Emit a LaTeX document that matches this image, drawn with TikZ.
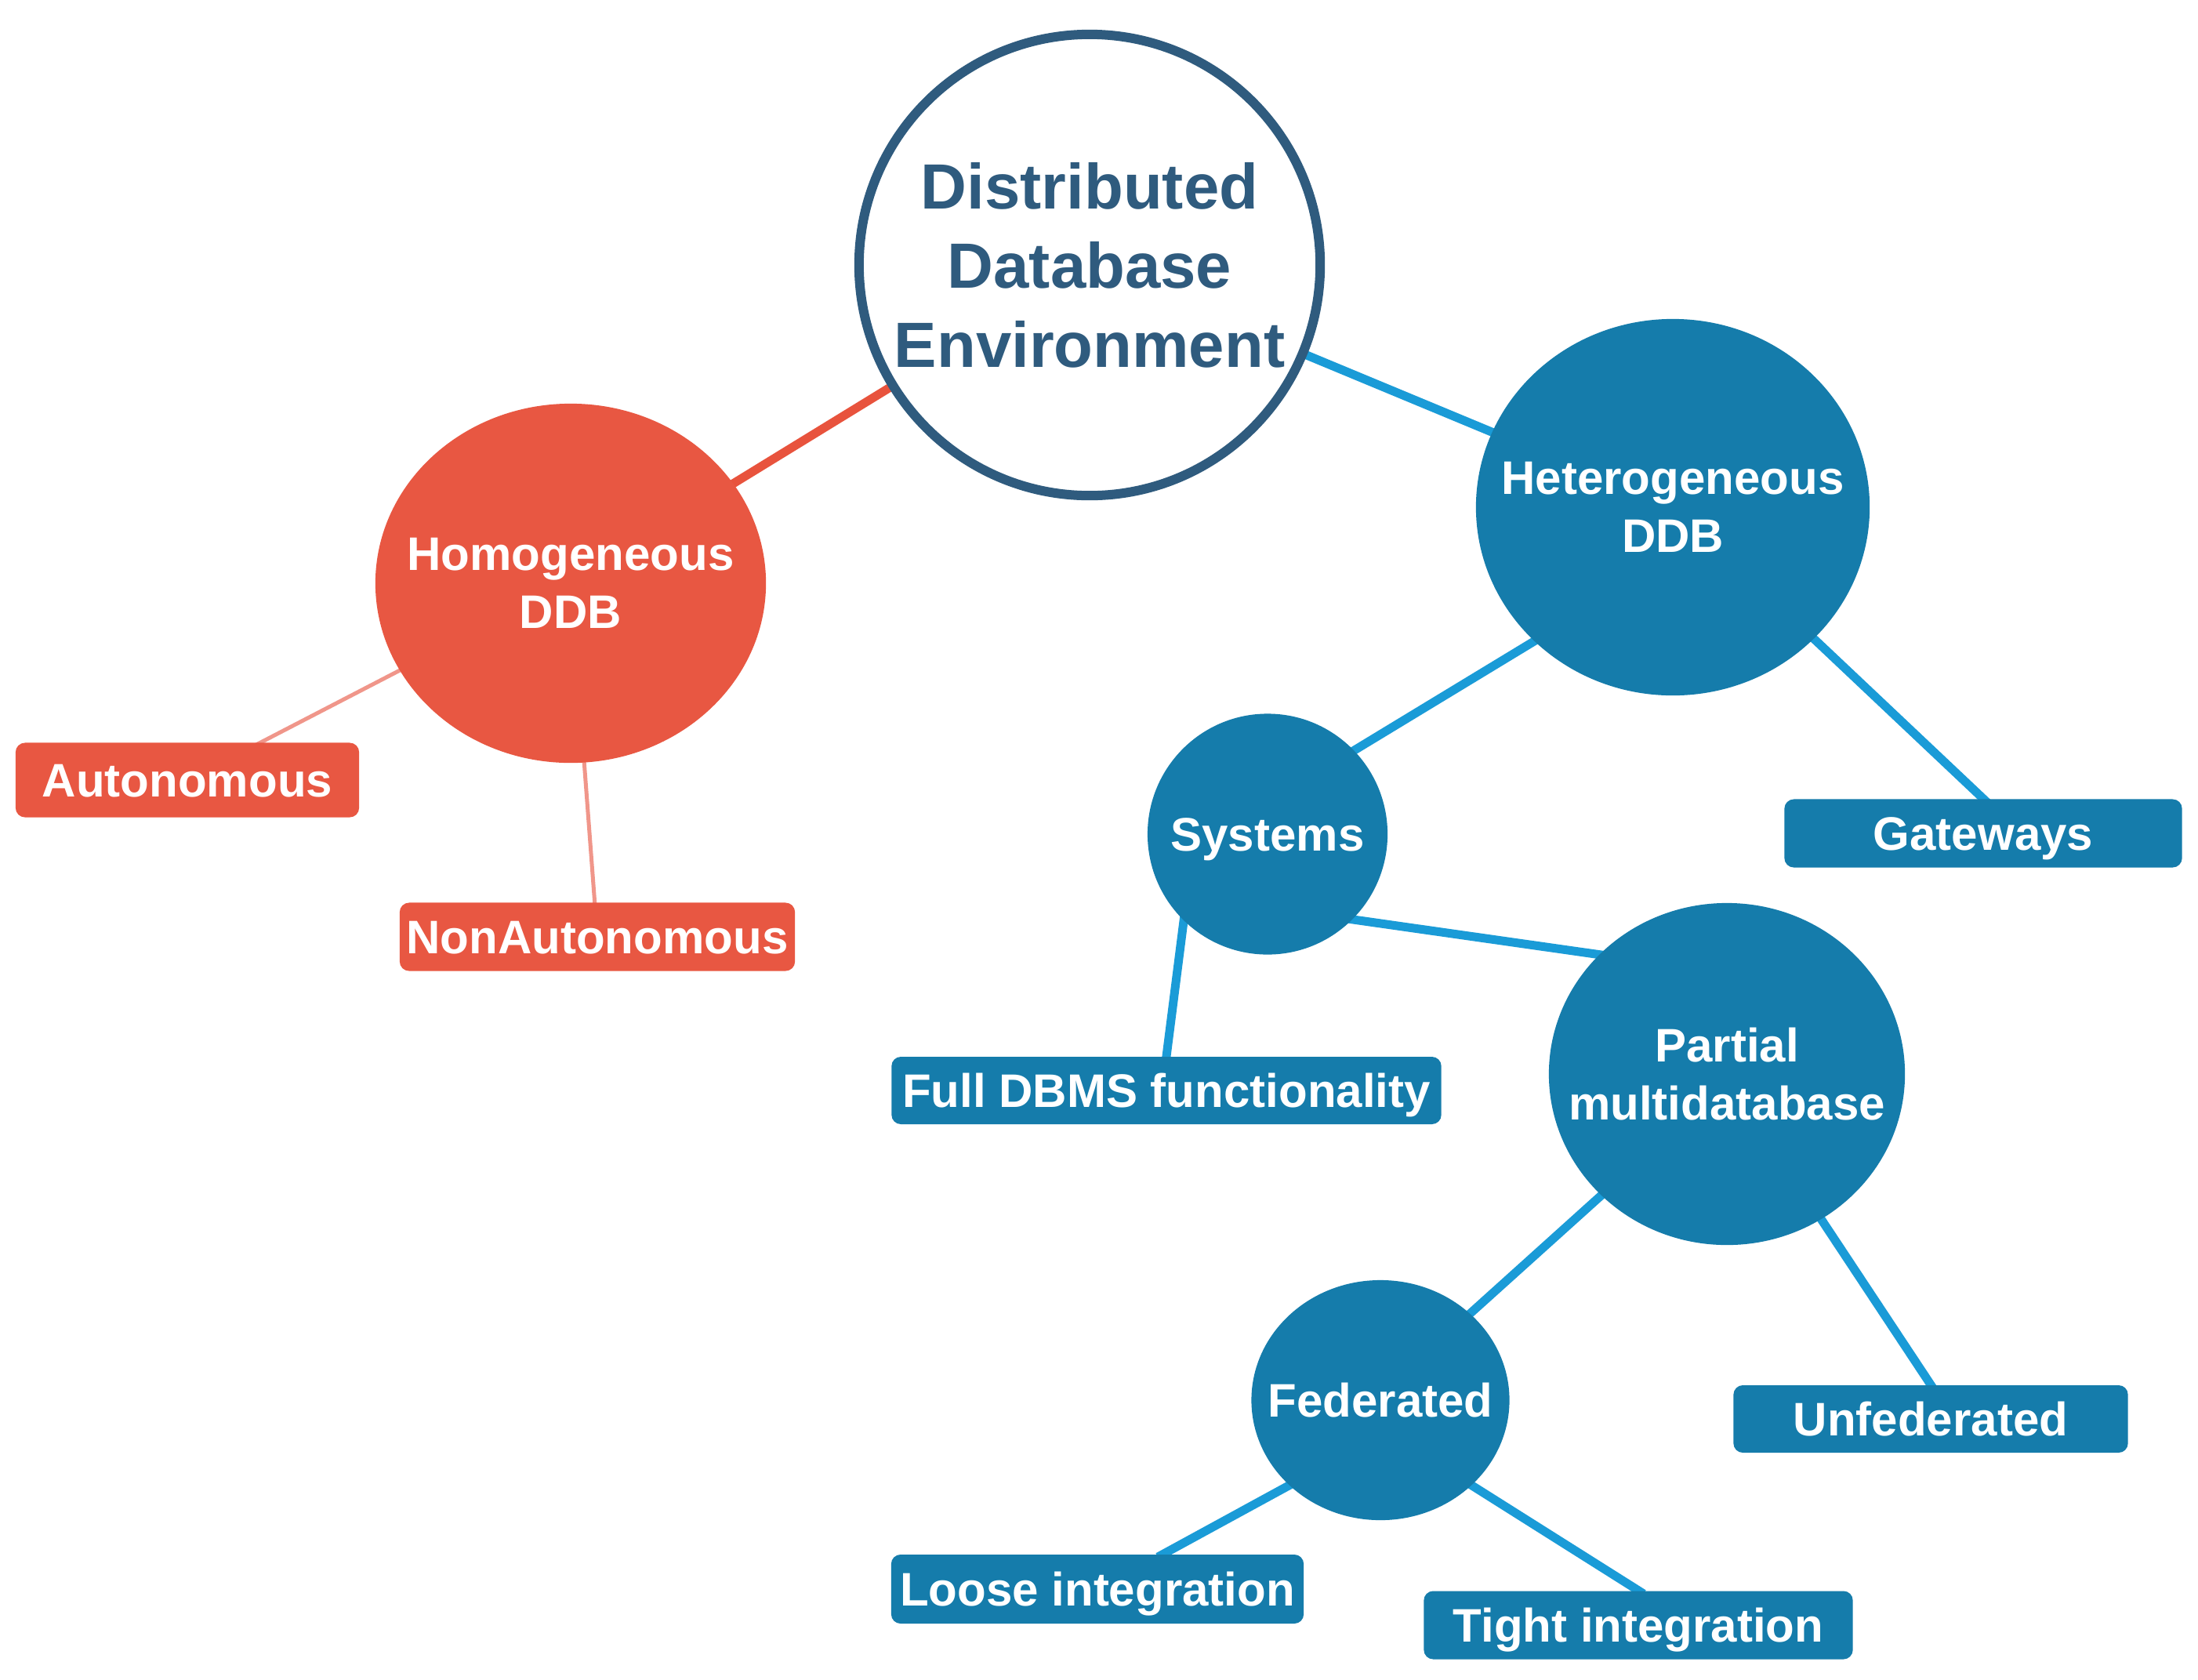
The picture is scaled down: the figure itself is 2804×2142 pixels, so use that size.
\documentclass[tikz,border=0pt]{standalone}
\usepackage{fontspec}
\setmainfont{Liberation Sans}
\usetikzlibrary{shapes.geometric,backgrounds}
\definecolor{cdark}{HTML}{2F5B7E}
\definecolor{bfill}{HTML}{157CAB}
\definecolor{bline}{HTML}{1A9BD7}
\definecolor{rfill}{HTML}{E85742}
\definecolor{rline}{HTML}{E8533D}
\definecolor{pline}{HTML}{F0968A}
\begin{document}
\begin{tikzpicture}[x=0.01cm,y=-0.01cm,
  lbl/.style={font=\fontsize{17.07pt}{21.05pt}\selectfont\bfseries, text=white, align=center},
  bcirc/.style={ellipse, lbl, fill=bfill, inner sep=-1cm},
  rcirc/.style={ellipse, lbl, fill=rfill, inner sep=-1cm},
  oneline/.style={text height=0.43cm, text depth=0pt},
  bbox/.style={rectangle, rounded corners=0.12cm, lbl, oneline, fill=bfill, inner sep=0pt},
  rbox/.style={rectangle, rounded corners=0.12cm, lbl, oneline, fill=rfill, inner sep=0pt},
  bedge/.style={draw=bline, line width=0.11cm, shorten <=-0.08cm, shorten >=-0.08cm},
  redge/.style={draw=rline, line width=0.11cm, shorten <=-0.08cm, shorten >=-0.08cm},
  pedge/.style={draw=pline, line width=0.05cm, shorten <=-0.08cm, shorten >=-0.08cm}
]
\useasboundingbox (0,0) rectangle (2804,2142);

% central
\node[circle, draw=cdark, line width=0.12cm, fill=white, minimum size=5.88cm, inner sep=0pt,
      text=cdark, align=center, font=\fontsize{23.19pt}{28.74pt}\selectfont\bfseries]
  (cen) at (1390,338) {Distributed\\Database\\Environment};

% circles
\node[rcirc, minimum width=4.98cm, minimum height=4.58cm] (hom) at (728,744) {Homogeneous\\DDB};
\node[bcirc, minimum width=5.02cm, minimum height=4.80cm] (het) at (2134,647) {Heterogeneous\\DDB};
\node[bcirc, oneline, minimum width=3.06cm, minimum height=3.07cm] (sys) at (1617,1064) {Systems};
\node[bcirc, minimum width=4.54cm, minimum height=4.36cm] (part) at (2203,1370) {Partial\\multidatabase};
\node[bcirc, oneline, minimum width=3.29cm, minimum height=3.06cm] (fed) at (1761,1786) {Federated};

% boxes
\node[rbox, minimum width=4.38cm, minimum height=0.95cm] (auto) at (239,995) {Autonomous};
\node[rbox, minimum width=5.04cm, minimum height=0.87cm] (nonauto) at (762,1195) {NonAutonomous};
\node[bbox, minimum width=5.07cm, minimum height=0.87cm] (gw) at (2530,1063) {Gateways};
\node[bbox, minimum width=7.01cm, minimum height=0.86cm] (full) at (1488,1391) {Full DBMS functionality};
\node[bbox, minimum width=5.03cm, minimum height=0.86cm] (unf) at (2463,1810) {Unfederated};
\node[bbox, minimum width=5.26cm, minimum height=0.88cm] (loose) at (1400,2027) {Loose integration};
\node[bbox, minimum width=5.47cm, minimum height=0.87cm] (tight) at (2090,2073) {Tight integration};

\begin{pgfonlayer}{background}
\fill[white] (0,0) rectangle (2804,2142);
\draw[redge] (cen) -- (hom);
\draw[bedge] (cen) -- (het);
\draw[pedge] (hom.207) -- ([xshift=0.94cm]auto.north);
\draw[pedge] (hom) -- (nonauto);
\draw[bedge] (het.224) -- (sys.44.5);
\draw[bedge] (het.-43.5) -- (gw.north);
\draw[bedge] (sys.-45) -- (part.137);
\draw[bedge] (sys.226) -- (full.north);
\draw[bedge] (part.224) -- (fed.44);
\draw[bedge] (part.-57.5) -- (unf.north);
\draw[bedge] (fed.223) -- ([xshift=0.84cm]loose.north);
\draw[bedge] (fed.-43) -- (tight.north);
\end{pgfonlayer}
\end{tikzpicture}
\end{document}
